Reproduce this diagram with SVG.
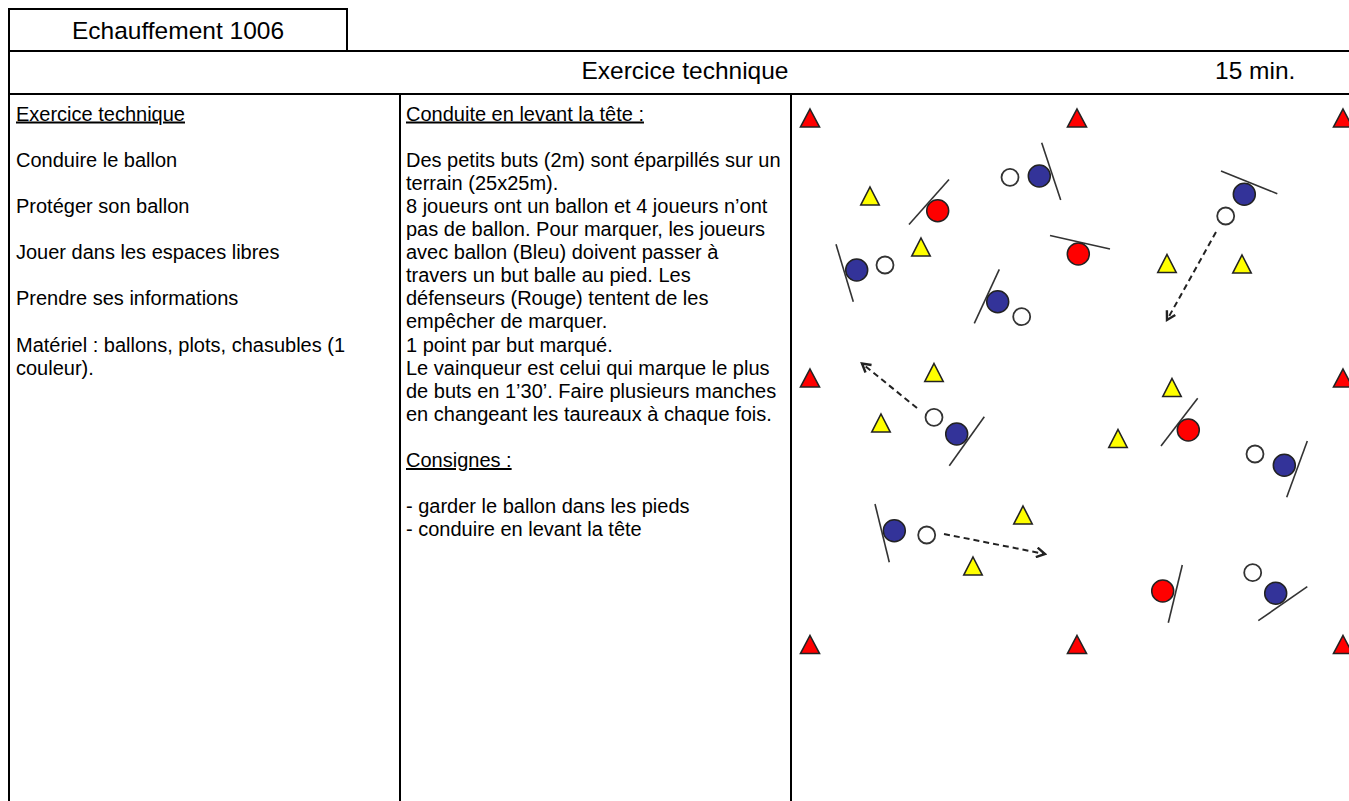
<svg xmlns="http://www.w3.org/2000/svg" xmlns:xlink="http://www.w3.org/1999/xlink" width="1349" height="801" viewBox="0 0 1349 801">
<style>
.frame{stroke:#000;stroke-width:2;fill:none}
.hdr{font-family:"Liberation Sans",Arial,sans-serif;font-size:24.5px;fill:#000}
.txt{font-family:"Liberation Sans",Arial,sans-serif;font-size:20px;fill:#000}
.u{text-decoration:underline}
.stick{stroke:#333;stroke-width:1.6;fill:none}
.blue{fill:#333399;stroke:#222;stroke-width:1.5}
.red{fill:#ff0000;stroke:#222;stroke-width:1.5}
.ball{fill:#fff;stroke:#333;stroke-width:1.8}
.run{stroke:#222;stroke-width:2;fill:none;stroke-dasharray:6 4}
</style>
<defs>
<path id="triR" d="M0,-9 L9.5,9 L-9.5,9 Z" fill="#ff0000" stroke="#222" stroke-width="1.6"/>
<path id="triY" d="M0,-9 L9.2,9 L-9.2,9 Z" fill="#ffff00" stroke="#222" stroke-width="1.6"/>
<marker id="arr" markerUnits="userSpaceOnUse" markerWidth="12" markerHeight="12" refX="8" refY="5" orient="auto" viewBox="0 0 10 10">
<path d="M1,1 L8,5 L1,9" fill="none" stroke="#222" stroke-width="2"/>
</marker>
</defs>
<rect width="1349" height="801" fill="#fff"/>
<g id="table">
<path class="frame" d="M9,51 V9 H347 V51"/>
<path class="frame" d="M9,51 H1349 M9,94 H1349 M9,51 V801 M400,94 V801 M791,94 V801"/>
</g>
<g id="header">
<text class="hdr" x="178" y="38.5" text-anchor="middle">Echauffement 1006</text>
<text class="hdr" x="685" y="78.5" text-anchor="middle">Exercice technique</text>
<text class="hdr" x="1215" y="78.5">15 min.</text>
</g>
<g id="col-objectifs" class="txt">
<text x="16" y="120.5" class="u">Exercice technique</text>
<text x="16" y="166.7">Conduire le ballon</text>
<text x="16" y="212.9">Protéger son ballon</text>
<text x="16" y="259.1">Jouer dans les espaces libres</text>
<text x="16" y="305.3">Prendre ses informations</text>
<text x="16" y="351.5">Matériel : ballons, plots, chasubles (1</text>
<text x="16" y="374.6">couleur).</text>
</g>
<g id="col-description" class="txt">
<text x="406" y="120.5" class="u">Conduite en levant la tête :</text>
<text x="406" y="166.7">Des petits buts (2m) sont éparpillés sur un</text>
<text x="406" y="189.8">terrain (25x25m).</text>
<text x="406" y="212.9">8 joueurs ont un ballon et 4 joueurs n’ont</text>
<text x="406" y="236">pas de ballon. Pour marquer, les joueurs</text>
<text x="406" y="259.1">avec ballon (Bleu) doivent passer à</text>
<text x="406" y="282.2">travers un but balle au pied. Les</text>
<text x="406" y="305.3">défenseurs (Rouge) tentent de les</text>
<text x="406" y="328.4">empêcher de marquer.</text>
<text x="406" y="351.5">1 point par but marqué.</text>
<text x="406" y="374.6">Le vainqueur est celui qui marque le plus</text>
<text x="406" y="397.7">de buts en 1’30’. Faire plusieurs manches</text>
<text x="406" y="420.8">en changeant les taureaux à chaque fois.</text>
<text x="406" y="467" class="u">Consignes :</text>
<text x="406" y="513.2">- garder le ballon dans les pieds</text>
<text x="406" y="536.3">- conduire en levant la tête</text>
</g>
<g id="cones-red">
<use href="#triR" x="810" y="118"/>
<use href="#triR" x="1077" y="118"/>
<use href="#triR" x="1343" y="118"/>
<use href="#triR" x="810" y="378"/>
<use href="#triR" x="1343" y="378"/>
<use href="#triR" x="810" y="644.5"/>
<use href="#triR" x="1077" y="644.5"/>
<use href="#triR" x="1343" y="644.5"/>
</g>
<g id="cones-yellow">
<use href="#triY" x="870" y="196"/>
<use href="#triY" x="921" y="247"/>
<use href="#triY" x="1167" y="263.5"/>
<use href="#triY" x="1242" y="264"/>
<use href="#triY" x="934" y="372.5"/>
<use href="#triY" x="881" y="423"/>
<use href="#triY" x="1172" y="387.5"/>
<use href="#triY" x="1118" y="438.5"/>
<use href="#triY" x="1023" y="515"/>
<use href="#triY" x="973" y="566"/>
</g>
<g id="connectors">
<line class="run" x1="1216" y1="232" x2="1167" y2="320" marker-end="url(#arr)"/>
<line class="run" x1="917" y1="408" x2="862" y2="363.5" marker-end="url(#arr)"/>
<line class="run" x1="944" y1="534" x2="1045" y2="554" marker-end="url(#arr)"/>
</g>
<g id="defender-1">
<line class="stick" x1="909" y1="224.5" x2="949" y2="179.5"/>
<circle class="red" cx="937.7" cy="210.7" r="11"/>
</g>
<g id="defender-2">
<line class="stick" x1="1050" y1="235.5" x2="1110" y2="249"/>
<circle class="red" cx="1078.3" cy="254" r="11"/>
</g>
<g id="defender-3">
<line class="stick" x1="1161" y1="446" x2="1197.7" y2="398.3"/>
<circle class="red" cx="1188.3" cy="430" r="11"/>
</g>
<g id="defender-4">
<line class="stick" x1="1168.3" y1="622.7" x2="1182.3" y2="565"/>
<circle class="red" cx="1162.7" cy="591" r="11"/>
</g>
<g id="attacker-1">
<line class="stick" x1="836" y1="244.3" x2="853.3" y2="301.7"/>
<circle class="blue" cx="856.7" cy="270" r="11"/>
<circle class="ball" cx="885" cy="265" r="8.5"/>
</g>
<g id="attacker-2">
<line class="stick" x1="974.3" y1="323.3" x2="999.3" y2="269.3"/>
<circle class="blue" cx="997.7" cy="301.7" r="11"/>
<circle class="ball" cx="1021.7" cy="316.7" r="8.5"/>
</g>
<g id="attacker-3">
<line class="stick" x1="1041.7" y1="142.7" x2="1060.7" y2="200"/>
<circle class="blue" cx="1039.3" cy="176" r="11"/>
<circle class="ball" cx="1010" cy="177.3" r="8.5"/>
</g>
<g id="attacker-4">
<line class="stick" x1="1221" y1="171" x2="1277.3" y2="193.7"/>
<circle class="blue" cx="1244.3" cy="194.3" r="11"/>
<circle class="ball" cx="1225.7" cy="216" r="8.5"/>
</g>
<g id="attacker-5">
<line class="stick" x1="949.3" y1="465.7" x2="984.3" y2="416.7"/>
<circle class="blue" cx="956.7" cy="434" r="11"/>
<circle class="ball" cx="934" cy="417.3" r="8.5"/>
</g>
<g id="attacker-6">
<line class="stick" x1="1286.7" y1="497.3" x2="1307.3" y2="441"/>
<circle class="blue" cx="1284.3" cy="465.3" r="11"/>
<circle class="ball" cx="1255" cy="454" r="8.5"/>
</g>
<g id="attacker-7">
<line class="stick" x1="875" y1="504" x2="889.3" y2="562.3"/>
<circle class="blue" cx="894.3" cy="530.7" r="11"/>
<circle class="ball" cx="926.7" cy="535" r="8.5"/>
</g>
<g id="attacker-8">
<line class="stick" x1="1258.3" y1="620.7" x2="1307.3" y2="586.7"/>
<circle class="blue" cx="1275.7" cy="593.3" r="11"/>
<circle class="ball" cx="1252.7" cy="572.7" r="8.5"/>
</g>
</svg>
